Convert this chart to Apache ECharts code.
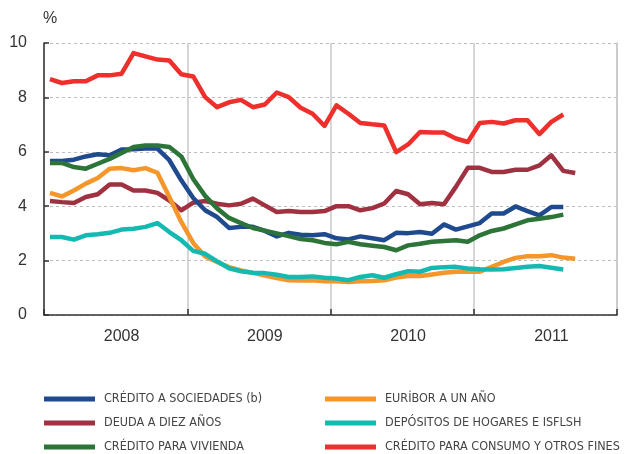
<!DOCTYPE html>
<html>
<head>
<meta charset="utf-8">
<script src="https://cdn.jsdelivr.net/npm/echarts@6/dist/echarts.min.js"></script>
<style>
  html, body { margin: 0; padding: 0; background: #fff; }
  #main { width: 631px; height: 454px; }
</style>
</head>
<body>
<div id="main"></div>
<script>
// months of 2008-2011, year shown in the middle of each year
var years = ['2008', '2009', '2010', '2011'];
var months = ['01', '02', '03', '04', '05', '06', '07', '08', '09', '10', '11', '12'];
var categories = [];
years.forEach(function (y) {
  months.forEach(function (m) { categories.push(y + '-' + m); });
});

var yTicks = [0, 2, 4, 6, 8, 10];

var creditoSociedades = [
  5.66, 5.66, 5.71, 5.83, 5.91, 5.87, 6.08, 6.09, 6.12, 6.12, 5.69, 4.95,
  4.30, 3.85, 3.60, 3.20, 3.24, 3.24, 3.09, 2.89, 3.02, 2.95, 2.93, 2.97,
  2.82, 2.78, 2.89, 2.82, 2.75, 3.02, 3.01, 3.05, 2.99, 3.33, 3.14, 3.26,
  3.38, 3.73, 3.73, 3.99, 3.82, 3.66, 3.97, 3.97
];
var deudaDiezAnos = [
  4.19, 4.15, 4.12, 4.34, 4.44, 4.80, 4.80, 4.58, 4.58, 4.49, 4.21, 3.85,
  4.13, 4.19, 4.09, 4.03, 4.09, 4.28, 4.03, 3.79, 3.82, 3.79, 3.79, 3.82,
  4.00, 4.00, 3.85, 3.93, 4.10, 4.56, 4.44, 4.07, 4.12, 4.07, 4.71, 5.41,
  5.41, 5.26, 5.26, 5.34, 5.34, 5.50, 5.87, 5.30, 5.22
];
var creditoVivienda = [
  5.59, 5.59, 5.44, 5.38, 5.56, 5.74, 5.96, 6.18, 6.23, 6.23, 6.18, 5.83,
  5.00, 4.38, 3.92, 3.57, 3.38, 3.20, 3.10, 3.00, 2.90, 2.79, 2.75, 2.65,
  2.60, 2.69, 2.60, 2.55, 2.50, 2.38, 2.56, 2.62, 2.69, 2.72, 2.75, 2.69,
  2.93, 3.09, 3.18, 3.33, 3.48, 3.54, 3.60, 3.69
];
var euribor = [
  4.49, 4.36, 4.58, 4.83, 5.04, 5.38, 5.40, 5.32, 5.40, 5.23, 4.34, 3.42,
  2.65, 2.15, 1.95, 1.76, 1.64, 1.55, 1.45, 1.36, 1.28, 1.27, 1.28, 1.24,
  1.24, 1.21, 1.24, 1.25, 1.28, 1.38, 1.43, 1.43, 1.49, 1.55, 1.59, 1.59,
  1.59, 1.77, 1.95, 2.10, 2.16, 2.16, 2.20, 2.11, 2.07
];
var depositos = [
  2.87, 2.87, 2.77, 2.93, 2.97, 3.02, 3.14, 3.17, 3.24, 3.38, 3.05, 2.75,
  2.36, 2.25, 1.97, 1.72, 1.61, 1.55, 1.54, 1.48, 1.40, 1.40, 1.42, 1.37,
  1.34, 1.28, 1.40, 1.46, 1.37, 1.50, 1.61, 1.59, 1.73, 1.76, 1.77, 1.71,
  1.68, 1.67, 1.68, 1.73, 1.77, 1.80, 1.74, 1.67
];
var creditoConsumo = [
  8.67, 8.53, 8.59, 8.59, 8.81, 8.81, 8.87, 9.63, 9.51, 9.39, 9.36, 8.85,
  8.77, 8.01, 7.64, 7.82, 7.91, 7.64, 7.74, 8.18, 8.01, 7.62, 7.40, 6.95,
  7.71, 7.40, 7.06, 7.01, 6.97, 5.99, 6.27, 6.73, 6.71, 6.71, 6.49, 6.36,
  7.06, 7.10, 7.04, 7.16, 7.16, 6.65, 7.10, 7.37
];

var chartDom = document.getElementById('main');
var myChart = echarts.init(chartDom);
var option;

var textColor = '#333';
var gridColor = '#c8c8c8';
var legendFont = "'Liberation Sans Narrow', 'DejaVu Sans Condensed', 'Liberation Sans', sans-serif";

function yearStart(index) {
  return index % 12 === 0;
}

function line(name, data, color) {
  return {
    name: name,
    type: 'line',
    data: data,
    showSymbol: false,
    symbol: 'none',
    color: color,
    lineStyle: { width: 4.5, color: color, join: 'round' }
  };
}

function legendBlock(left, names) {
  return {
    left: left,
    top: 392,
    orient: 'vertical',
    padding: 0,
    itemWidth: 51,
    itemHeight: 5,
    itemGap: 10,
    selectedMode: false,
    data: names.map(function (n) { return { name: n, icon: 'rect' }; }),
    textStyle: {
      fontFamily: legendFont,
      fontSize: 12.5,
      lineHeight: 14,
      color: '#444',
      padding: [0, 0, 0, 4]
    }
  };
}

option = {
  animation: false,
  backgroundColor: '#fff',
  grid: { left: 44, right: 14, top: 43, bottom: 139 },
  graphic: [{
    type: 'text',
    left: 43,
    top: 11,
    style: { text: '%', font: "16px 'Liberation Sans', sans-serif", fill: textColor }
  }],
  legend: [
    legendBlock(44, ['CRÉDITO A SOCIEDADES (b)', 'DEUDA A DIEZ AÑOS', 'CRÉDITO PARA VIVIENDA']),
    legendBlock(325, ['EURÍBOR A UN AÑO', 'DEPÓSITOS DE HOGARES E ISFLSH', 'CRÉDITO PARA CONSUMO Y OTROS FINES'])
  ],
  xAxis: {
    type: 'category',
    data: categories,
    boundaryGap: true,
    axisLine: { lineStyle: { color: textColor, width: 1.5 } },
    axisTick: { show: true, inside: true, length: 6, interval: yearStart, lineStyle: { color: textColor, width: 1.5 } },
    splitLine: { show: true, interval: yearStart, lineStyle: { color: gridColor, width: 1.5 } },
    axisLabel: {
      interval: 0,
      margin: 14,
      fontSize: 16,
      fontFamily: "'Liberation Sans', sans-serif",
      color: textColor,
      formatter: function (v, i) { return i % 12 === 6 ? v.slice(0, 4) : ''; }
    }
  },
  yAxis: [{
    type: 'value',
    min: yTicks[0],
    max: yTicks[yTicks.length - 1],
    interval: 2,
    axisLine: { show: true, lineStyle: { color: textColor, width: 1.5 } },
    axisTick: { show: true, inside: true, length: 5, lineStyle: { color: textColor, width: 1.5 } },
    splitLine: { show: true, lineStyle: { color: '#bdbdbd', width: 1, type: [3, 3] } },
    axisLabel: { margin: 17, fontSize: 16, fontFamily: "'Liberation Sans', sans-serif", color: textColor }
  }, {
    // right frame line
    type: 'value',
    position: 'right',
    min: yTicks[0],
    max: yTicks[yTicks.length - 1],
    interval: 2,
    axisLine: { show: true, lineStyle: { color: gridColor, width: 1.5 } },
    axisTick: { show: false },
    axisLabel: { show: false },
    splitLine: { show: false }
  }],
  series: [
    line('DEUDA A DIEZ AÑOS', deudaDiezAnos, '#a03140'),
    line('CRÉDITO A SOCIEDADES (b)', creditoSociedades, '#1f4a8e'),
    line('CRÉDITO PARA VIVIENDA', creditoVivienda, '#2c7438'),
    line('EURÍBOR A UN AÑO', euribor, '#f4962a'),
    line('DEPÓSITOS DE HOGARES E ISFLSH', depositos, '#14bab1'),
    line('CRÉDITO PARA CONSUMO Y OTROS FINES', creditoConsumo, '#ee2f2b')
  ]
};

option && myChart.setOption(option);
</script>
</body>
</html>
